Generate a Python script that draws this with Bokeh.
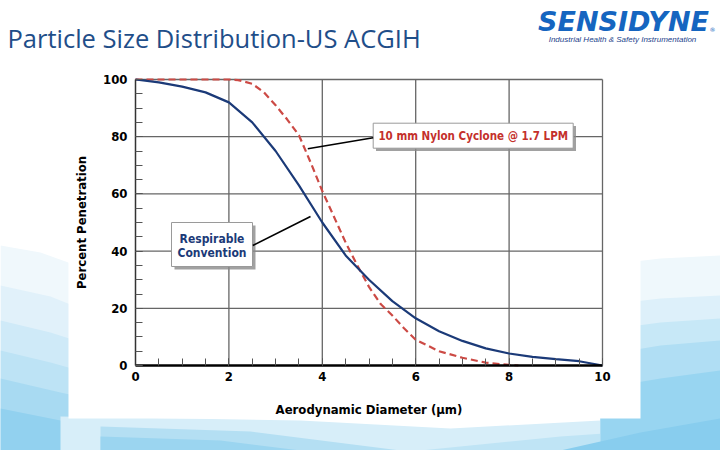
from bokeh.plotting import figure
from bokeh.models import Label, LinearAxis, SingleIntervalTicker, Range1d
from bokeh.core.properties import value
from bokeh.embed import file_html
from bokeh.resources import INLINE

# ---- data ----
diam_resp = [0, 0.5, 1, 1.5, 2, 2.5, 3, 3.5, 4, 4.5, 5, 5.5, 6, 6.5, 7, 7.5, 8, 8.5, 9, 9.5, 10]
pen_resp = [100, 99, 97.5, 95.5, 92, 85, 75, 63, 50, 38.5, 30, 22.5, 16.5, 12, 8.6, 6, 4.2, 3, 2.2, 1.5, 0]

diam_cyc = [0, 1, 2, 2.2, 2.5, 2.75, 3, 3.25, 3.5, 3.75, 4, 4.25, 4.5, 4.75, 5, 5.25, 5.5, 5.75, 6, 6.5, 7, 7.5, 8, 8.2]
pen_cyc = [100, 100, 100, 99.8, 98.5, 95.5, 91, 86, 80.5, 71, 61, 52, 43, 35, 27.5, 21.5, 17.5, 13, 9, 5, 2.7, 1, 0.2, 0]

x_ticks = [0, 2, 4, 6, 8, 10]
y_ticks = [0, 20, 40, 60, 80, 100]

title_text = "Particle Size Distribution-US ACGIH"
x_label = "Aerodynamic Diameter (µm)"
y_label = "Percent Penetration"
cyc_label = "10 mm Nylon Cyclone @ 1.7 LPM"
resp_label = ["Respirable", "Convention"]
logo_text = "SENSIDYNE"
logo_sub = "Industrial Health & Safety Instrumentation"

NARROW = "DejaVu Sans Condensed, Roboto"

# page-pixel -> data helpers (plot area: x 135..602, y 79..365 on the page)
SX, SY = 46.7, 2.86
def dx(px):
    return (px - 135) / SX

def dy(py):
    return (365 - py) / SY

W, H = 720, 450
p = figure(width=W, height=H, output_backend="svg", toolbar_location=None,
           x_range=Range1d(dx(0), dx(W)), y_range=Range1d(dy(H), dy(0)),
           x_axis_location=None, y_axis_location=None, min_border=0)
p.background_fill_color = "white"
p.border_fill_color = "white"
p.outline_line_color = None
p.xgrid.visible = False
p.ygrid.visible = False

# ---- slide background swooshes ----
def patch(pts, color, alpha):
    p.patch([dx(a) for a, b in pts], [dy(b) for a, b in pts], fill_color=color,
            fill_alpha=alpha, line_color=None)

# left side
patch([(0, 245), (40, 252), (90, 270), (120, 285), (120, 450), (0, 450)], "#f0f8fc", 1.0)
patch([(0, 285), (50, 296), (100, 316), (120, 326), (120, 450), (0, 450)], "#e1f1fa", 1.0)
patch([(0, 320), (50, 332), (100, 348), (120, 356), (120, 450), (0, 450)], "#cfeaf8", 1.0)
patch([(0, 350), (50, 362), (100, 376), (120, 384), (120, 450), (0, 450)], "#bde3f5", 1.0)
patch([(0, 378), (60, 392), (120, 405), (120, 450), (0, 450)], "#a8daf2", 1.0)
patch([(0, 408), (60, 420), (140, 432), (220, 450), (0, 450)], "#92d1ef", 1.0)
# bottom strip
patch([(60, 416), (300, 420), (450, 428), (600, 420), (720, 412), (720, 450), (60, 450)], "#d7eef9", 1.0)
patch([(100, 426), (250, 431), (400, 450), (100, 450)], "#b4dff3", 1.0)
patch([(100, 436), (220, 440), (300, 450), (100, 450)], "#9bd5f0", 1.0)
patch([(420, 450), (560, 436), (720, 425), (720, 450)], "#bfe4f5", 1.0)
# right side
patch([(600, 265), (660, 258), (720, 255), (720, 450), (600, 450)], "#eff8fc", 1.0)
patch([(600, 305), (660, 298), (720, 295), (720, 450), (600, 450)], "#ddf0fa", 1.0)
patch([(600, 330), (660, 322), (720, 318), (720, 450), (600, 450)], "#c7e8f7", 1.0)
patch([(600, 355), (660, 345), (720, 340), (720, 450), (600, 450)], "#b0def4", 1.0)
patch([(600, 388), (660, 378), (720, 370), (720, 450), (600, 450)], "#98d5f1", 1.0)
patch([(560, 450), (640, 432), (720, 418), (720, 450)], "#88cdee", 1.0)

# white chart panel
p.quad(left=dx(68), right=dx(640), top=dy(65), bottom=dy(418), fill_color="white", line_color=None)

# ---- grid lines from the tick values ----
gx = x_ticks[1:]
p.segment(x0=gx, y0=[y_ticks[0]] * len(gx), x1=gx, y1=[y_ticks[-1]] * len(gx),
          line_color="#666666", line_width=1.3)
gy = y_ticks[1:]
p.segment(x0=[x_ticks[0]] * len(gy), y0=gy, x1=[x_ticks[-1]] * len(gy), y1=gy,
          line_color="#666666", line_width=1.3)

# ---- curves ----
p.line(diam_cyc, pen_cyc, line_color="#cc4a45", line_width=2.2, line_dash="7 4")
p.line(diam_resp, pen_resp, line_color="#1b3a78", line_width=2.2)

# ---- axes ----
xaxis = LinearAxis(fixed_location=0, bounds=(x_ticks[0], x_ticks[-1]),
                   ticker=SingleIntervalTicker(interval=2, num_minor_ticks=4), axis_label=x_label)
yaxis = LinearAxis(fixed_location=0, bounds=(y_ticks[0], y_ticks[-1]),
                   ticker=SingleIntervalTicker(interval=20, num_minor_ticks=4), axis_label=y_label)
for ax in (xaxis, yaxis):
    ax.major_label_text_font = NARROW
    ax.major_label_text_font_style = "bold"
    ax.major_label_text_font_size = "13px"
    ax.major_label_text_color = "black"
    ax.axis_label_text_font = NARROW
    ax.axis_label_text_font_style = "bold"
    ax.axis_label_text_font_size = "13px"
    ax.axis_label_text_color = "black"
    ax.major_tick_out = 0
    ax.major_tick_in = 7
    ax.minor_tick_out = 0
    ax.minor_tick_in = 7
    ax.major_tick_line_color = "#555555"
    ax.minor_tick_line_color = "#555555"
xaxis.axis_line_color = "black"
xaxis.axis_line_width = 2.5
yaxis.axis_line_color = "#333333"
yaxis.axis_line_width = 1.5
xaxis.major_label_standoff = 6
yaxis.major_label_standoff = 8
xaxis.axis_label_standoff = 18
yaxis.axis_label_standoff = 11
p.add_layout(xaxis, "below")
p.add_layout(yaxis, "left")

# ---- callout boxes ----
p.quad(left=dx(375.5), right=dx(575.5), top=dy(125.5), bottom=dy(150.5), fill_color="#8a8a8a",
       line_color=None, fill_alpha=0.8)
p.quad(left=dx(372.7), right=dx(572.7), top=dy(122.7), bottom=dy(147.7), fill_color="white",
       line_color="#9a9a9a", line_width=1)
p.text(x=[dx(472.7)], y=[dy(135.5)], text=[cyc_label], text_color="#c4302b",
       text_font=value(NARROW), text_font_style="bold", text_font_size="11.5px",
       text_align="center", text_baseline="middle")
p.segment(x0=[dx(372.7)], y0=[dy(137.3)], x1=[dx(307.3)], y1=[dy(148.3)], line_color="black", line_width=1.6)

p.quad(left=dx(174), right=dx(255), top=dy(225), bottom=dy(269), fill_color="#8a8a8a",
       line_color=None, fill_alpha=0.8)
p.quad(left=dx(171), right=dx(252), top=dy(222), bottom=dy(266), fill_color="white",
       line_color="#9a9a9a", line_width=1)
p.text(x=[dx(211.5), dx(211.5)], y=[dy(238), dy(252.5)], text=resp_label, text_color="#1b3a78",
       text_font=value(NARROW), text_font_style="bold", text_font_size="12px",
       text_align="center", text_baseline="middle")
p.segment(x0=[dx(252.3)], y0=[dy(245)], x1=[dx(310)], y1=[dy(216)], line_color="black", line_width=1.6)

# ---- slide title and logo ----
p.add_layout(Label(x=dx(7), y=dy(37), text=title_text, text_font="Open Sans", text_font_size="25.5px",
                   text_color="#1f4e89", text_baseline="middle", text_align="left"))
p.add_layout(Label(x=dx(623), y=dy(21), text=logo_text, text_font="DejaVu Sans",
                   text_font_style="bold italic", text_font_size="27px", text_color="#1565c0",
                   text_baseline="middle", text_align="center"))
p.add_layout(Label(x=dx(709), y=dy(29), text="®", text_font="DejaVu Sans",
                   text_font_size="6px", text_color="#1565c0",
                   text_baseline="middle", text_align="left"))
p.add_layout(Label(x=dx(622), y=dy(39), text=logo_sub,
                   text_font="Liberation Sans", text_font_style="italic", text_font_size="8px",
                   text_color="#233f8c", text_baseline="middle", text_align="center"))

open("out.html", "w").write(file_html(p, INLINE))
